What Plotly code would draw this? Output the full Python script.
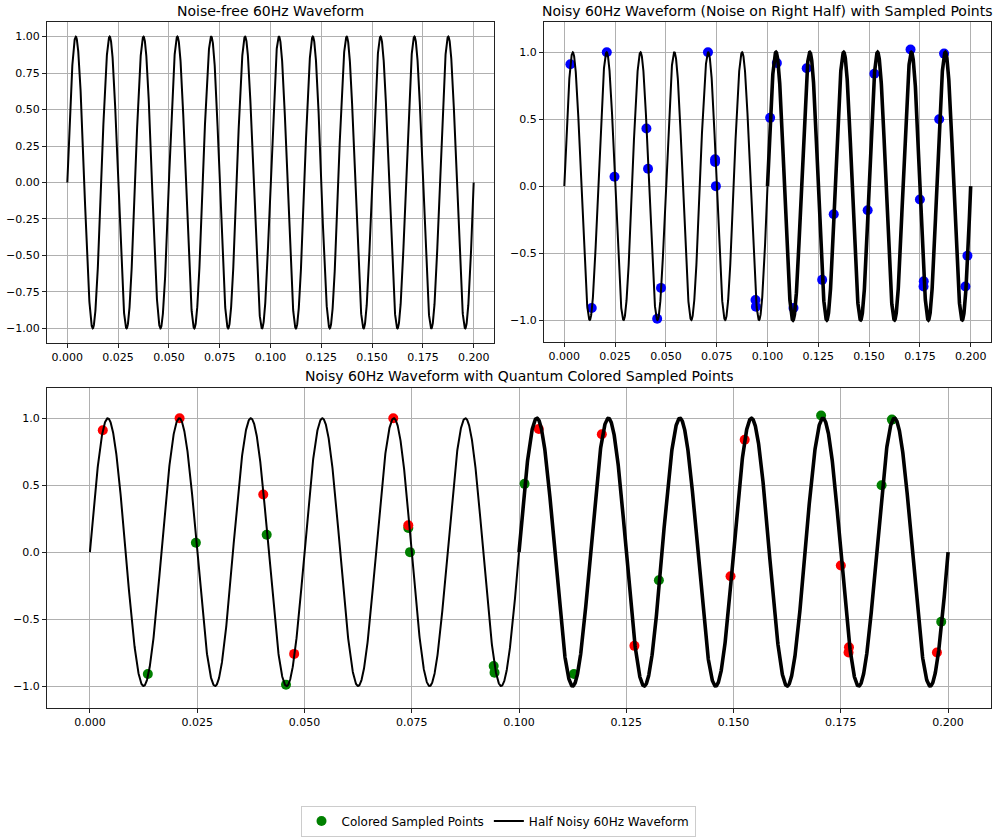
import numpy as np
import plotly.graph_objects as go

# signal settings
freq_hz = 60
duration = 0.2
n_samples = 4001
noise_start = 0.1

# sampled points (time, value, colour)
sample_t = [0.0030, 0.0135, 0.0209, 0.0247, 0.0404, 0.0412, 0.0457, 0.0476,
            0.0707, 0.0742, 0.0742, 0.0746, 0.0941, 0.0943, 0.1013, 0.1046,
            0.1128, 0.1193, 0.1269, 0.1326, 0.1493, 0.1526, 0.1704, 0.1750,
            0.1769, 0.1768, 0.1845, 0.1869, 0.1984, 0.1974]
sample_v = [0.91, -0.91, 1.00, 0.07, 0.43, 0.13, -0.99, -0.76,
            1.00, 0.20, 0.18, 0.00, -0.85, -0.90, 0.51, 0.92,
            -0.91, 0.88, -0.70, -0.21, -0.18, 0.84, 1.02, -0.10,
            -0.71, -0.75, 0.50, 0.99, -0.52, -0.75]
sample_c = ['red', 'green', 'red', 'green', 'red', 'green', 'green', 'red',
            'red', 'red', 'green', 'green', 'green', 'green', 'green', 'red',
            'green', 'red', 'red', 'green', 'red', 'red', 'green', 'red',
            'red', 'red', 'green', 'green', 'green', 'red']

t = np.linspace(0, duration, n_samples)
wave = np.sin(2 * np.pi * freq_hz * t)
clean = t <= noise_start + 1e-9
noisy = t >= noise_start - 1e-9

green_t = [x for x, c in zip(sample_t, sample_c) if c == 'green']
green_v = [y for y, c in zip(sample_v, sample_c) if c == 'green']
red_t = [x for x, c in zip(sample_t, sample_c) if c == 'red']
red_v = [y for y, c in zip(sample_v, sample_c) if c == 'red']

fig = go.Figure()

# top left: clean wave
fig.add_trace(go.Scatter(x=t, y=wave, mode='lines', line={'color': 'black', 'width': 2},
                         showlegend=False, xaxis='x', yaxis='y'))

# top right: blue samples + half noisy wave
fig.add_trace(go.Scatter(x=sample_t, y=sample_v, mode='markers',
                         marker={'color': 'blue', 'size': 10}, showlegend=False,
                         xaxis='x2', yaxis='y2'))
fig.add_trace(go.Scatter(x=t[clean], y=wave[clean], mode='lines',
                         line={'color': 'black', 'width': 2}, showlegend=False,
                         xaxis='x2', yaxis='y2'))
fig.add_trace(go.Scatter(x=t[noisy], y=wave[noisy], mode='lines',
                         line={'color': 'black', 'width': 3.6}, showlegend=False,
                         xaxis='x2', yaxis='y2'))

# bottom: coloured samples
fig.add_trace(go.Scatter(x=green_t, y=green_v, mode='markers', name='Colored Sampled Points',
                         marker={'color': 'green', 'size': 10}, xaxis='x3', yaxis='y3'))
fig.add_trace(go.Scatter(x=red_t, y=red_v, mode='markers', showlegend=False,
                         marker={'color': 'red', 'size': 10}, xaxis='x3', yaxis='y3'))
fig.add_trace(go.Scatter(x=t[clean], y=wave[clean], mode='lines', name='Half Noisy 60Hz Waveform',
                         line={'color': 'black', 'width': 2}, xaxis='x3', yaxis='y3'))
fig.add_trace(go.Scatter(x=t[noisy], y=wave[noisy], mode='lines', showlegend=False,
                         line={'color': 'black', 'width': 3.6}, xaxis='x3', yaxis='y3'))

W, H = 996, 839


def xdom(a, b):
    return [a / W, b / W]


def ydom(top, bottom):
    return [1 - bottom / H, 1 - top / H]


axis_style = dict(showgrid=True, gridcolor='#b0b0b0', gridwidth=0.8, zeroline=False,
                  showline=True, mirror=True, linecolor='#222', linewidth=1,
                  ticks='outside', ticklen=4, tickcolor='#222',
                  tickfont={'size': 11, 'color': 'black'})
x_ticks = dict(range=[-0.01, 0.21], tickvals=[i * 0.025 for i in range(9)], tickformat='.3f')

fig.update_layout(
    width=W, height=H,
    margin={'l': 0, 'r': 0, 't': 0, 'b': 0},
    paper_bgcolor='white', plot_bgcolor='white',
    font={'family': 'DejaVu Sans', 'color': 'black'},
    xaxis=dict(domain=xdom(47, 494), anchor='y', **x_ticks, **axis_style),
    yaxis=dict(domain=ydom(22, 343), anchor='x', range=[-1.1, 1.1],
               tickvals=[-1 + 0.25 * i for i in range(9)], tickformat='.2f', **axis_style),
    xaxis2=dict(domain=xdom(544, 991), anchor='y2', **x_ticks, **axis_style),
    yaxis2=dict(domain=ydom(22, 342), anchor='x2', range=[-1.164, 1.226],
                tickvals=[-1, -0.5, 0, 0.5, 1], tickformat='.1f', **axis_style),
    xaxis3=dict(domain=xdom(47, 991), anchor='y3', **x_ticks, **axis_style),
    yaxis3=dict(domain=ydom(388, 708), anchor='x3', range=[-1.164, 1.226],
                tickvals=[-1, -0.5, 0, 0.5, 1], tickformat='.1f', **axis_style),
    legend=dict(orientation='h', x=498 / W, xanchor='center', y=1 - 821 / H, yanchor='middle',
                bordercolor='#cccccc', borderwidth=1, font={'size': 12}),
    annotations=[
        dict(text='Noise-free 60Hz Waveform', x=270 / W, y=1 - 11 / H, xref='paper', yref='paper',
             showarrow=False, font={'size': 14}, xanchor='center', yanchor='middle'),
        dict(text='Noisy 60Hz Waveform (Noise on Right Half) with Sampled Points', x=767 / W,
             y=1 - 11 / H, xref='paper', yref='paper', showarrow=False, font={'size': 14},
             xanchor='center', yanchor='middle'),
        dict(text='Noisy 60Hz Waveform with Quantum Colored Sampled Points', x=519 / W,
             y=1 - 376 / H, xref='paper', yref='paper', showarrow=False, font={'size': 14},
             xanchor='center', yanchor='middle'),
    ],
)

# drop the default page margin so the figure sits at the window corner
fig.write_html('out.html', config={'displayModeBar': False},
               post_script="document.body.style.margin='0';")
